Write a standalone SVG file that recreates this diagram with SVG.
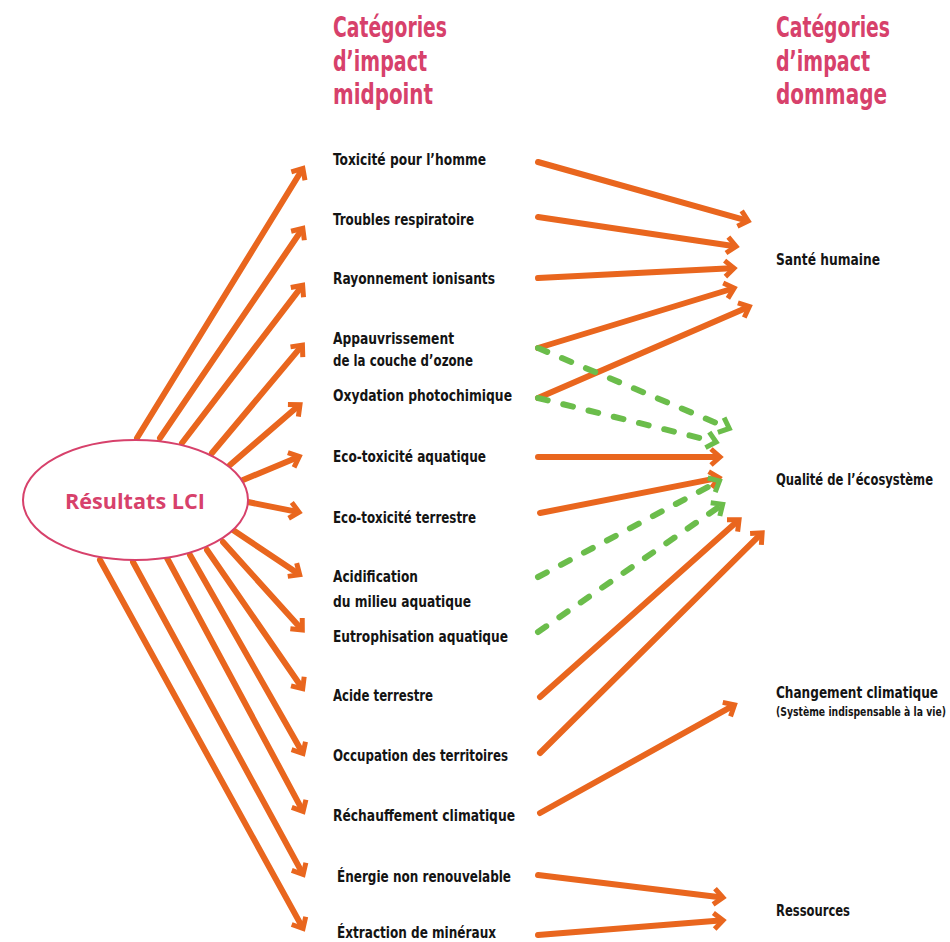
<svg xmlns="http://www.w3.org/2000/svg" width="950" height="942" viewBox="0 0 950 942">
<style>
.lbl{font-family:"Liberation Sans Narrow","DejaVu Sans Condensed","Open Sans",sans-serif;font-stretch:condensed;font-weight:bold;font-size:16px;fill:#141414}
.sm{font-size:12px}
.hdr{font-family:"Liberation Sans Narrow","DejaVu Sans Condensed","Open Sans",sans-serif;font-stretch:condensed;font-weight:bold;font-size:28px;fill:#d7416b}
.o{stroke:#e9661e;stroke-width:6;stroke-linecap:round;fill:none;marker-end:url(#ao)}
.g{stroke:#6bbd4b;stroke-width:6;stroke-linecap:round;fill:none;stroke-dasharray:10 16;marker-end:url(#ag)}
</style>
<defs>
<marker id="ao" markerUnits="userSpaceOnUse" orient="auto" refX="0" refY="0" markerWidth="30" markerHeight="30" overflow="visible">
<path d="M-6,-8 L3,0 L-6,8" fill="none" stroke="#e9661e" stroke-width="5" stroke-linejoin="miter"/>
</marker>
<marker id="ag" markerUnits="userSpaceOnUse" orient="auto" refX="0" refY="0" markerWidth="30" markerHeight="30" overflow="visible">
<path d="M-6,-8 L3,0 L-6,8" fill="none" stroke="#6bbd4b" stroke-width="5" stroke-linejoin="miter"/>
</marker>
</defs>
<rect width="950" height="942" fill="#ffffff"/>
<g id="connectors">
<line class="o" x1="137" y1="438" x2="301.3" y2="171.0"/>
<line class="o" x1="160" y1="438" x2="301.1" y2="230.8"/>
<line class="o" x1="182" y1="443" x2="300.8" y2="287.6"/>
<line class="o" x1="212" y1="453" x2="300.5" y2="347.4"/>
<line class="o" x1="230" y1="465" x2="297.7" y2="406.6"/>
<line class="o" x1="243" y1="480" x2="296.5" y2="457.7"/>
<line class="o" x1="248" y1="502" x2="296.1" y2="511.6"/>
<line class="o" x1="233" y1="530" x2="297.2" y2="573.1"/>
<line class="o" x1="223" y1="542" x2="300.3" y2="627.8"/>
<line class="o" x1="207" y1="550" x2="301.0" y2="686.2"/>
<line class="o" x1="190" y1="555" x2="301.5" y2="750.9"/>
<line class="o" x1="167" y1="558" x2="301.7" y2="808.8"/>
<line class="o" x1="133" y1="562" x2="301.7" y2="871.9"/>
<line class="o" x1="100" y1="560" x2="301.6" y2="925.9"/>
<line class="o" x1="538" y1="162" x2="745.3" y2="220.1"/>
<line class="o" x1="538" y1="217" x2="733.1" y2="246.0"/>
<line class="o" x1="538" y1="278" x2="731.0" y2="268.35"/>
<line class="o" x1="538" y1="348" x2="731.3" y2="289.0"/>
<line class="o" x1="538" y1="398" x2="746.6" y2="307.8"/>
<line class="o" x1="538" y1="457" x2="717" y2="457"/>
<line class="o" x1="540" y1="513" x2="716.1" y2="478.4"/>
<line class="g" x1="538" y1="348" x2="726.5" y2="427.3"/>
<line class="g" x1="538" y1="398" x2="713.2" y2="441.3"/>
<line class="g" x1="538" y1="577" x2="716.8" y2="482.3"/>
<line class="g" x1="538" y1="632" x2="720.2" y2="506.0"/>
<line class="o" x1="540" y1="697" x2="736.8" y2="521.7"/>
<line class="o" x1="540" y1="753" x2="760.0" y2="534.9"/>
<line class="o" x1="540" y1="813" x2="731.9" y2="706.4"/>
<line class="o" x1="538" y1="875" x2="720.0" y2="897.2"/>
<line class="o" x1="538" y1="935" x2="720.0" y2="920.6"/>
</g>
<g id="headers">
<text class="hdr" x="333" y="37" textLength="114" lengthAdjust="spacingAndGlyphs">Catégories</text>
<text class="hdr" x="333" y="71" textLength="94" lengthAdjust="spacingAndGlyphs">d’impact</text>
<text class="hdr" x="333" y="104" textLength="100" lengthAdjust="spacingAndGlyphs">midpoint</text>
<text class="hdr" x="776" y="37" textLength="114" lengthAdjust="spacingAndGlyphs">Catégories</text>
<text class="hdr" x="776" y="71" textLength="94" lengthAdjust="spacingAndGlyphs">d’impact</text>
<text class="hdr" x="776" y="104" textLength="111" lengthAdjust="spacingAndGlyphs">dommage</text>
</g>
<g id="lci">
<ellipse cx="135.5" cy="500" rx="112.5" ry="60" fill="#ffffff" stroke="#d7416b" stroke-width="2"/>
<text x="135" y="509" text-anchor="middle" textLength="140" lengthAdjust="spacingAndGlyphs" style="font-family:'Open Sans','Liberation Sans',sans-serif;font-weight:bold;font-size:22px;fill:#d7416b">Résultats LCI</text>
</g>
<g id="m-toxicite"><text class="lbl" x="333" y="165" textLength="153" lengthAdjust="spacingAndGlyphs">Toxicité pour l’homme</text></g>
<g id="m-troubles"><text class="lbl" x="333" y="225" textLength="141" lengthAdjust="spacingAndGlyphs">Troubles respiratoire</text></g>
<g id="m-rayonnement"><text class="lbl" x="333" y="284" textLength="162" lengthAdjust="spacingAndGlyphs">Rayonnement ionisants</text></g>
<g id="m-appauvrissement"><text class="lbl" x="333" y="344" textLength="121" lengthAdjust="spacingAndGlyphs">Appauvrissement</text><text class="lbl" x="333" y="366" textLength="140" lengthAdjust="spacingAndGlyphs">de la couche d’ozone</text></g>
<g id="m-oxydation"><text class="lbl" x="333" y="401" textLength="179" lengthAdjust="spacingAndGlyphs">Oxydation photochimique</text></g>
<g id="m-ecotox-aq"><text class="lbl" x="333" y="462" textLength="153" lengthAdjust="spacingAndGlyphs">Eco-toxicité aquatique</text></g>
<g id="m-ecotox-ter"><text class="lbl" x="333" y="523" textLength="143" lengthAdjust="spacingAndGlyphs">Eco-toxicité terrestre</text></g>
<g id="m-acidification"><text class="lbl" x="333" y="582" textLength="85" lengthAdjust="spacingAndGlyphs">Acidification</text><text class="lbl" x="333" y="607" textLength="138" lengthAdjust="spacingAndGlyphs">du milieu aquatique</text></g>
<g id="m-eutrophisation"><text class="lbl" x="333" y="642" textLength="175" lengthAdjust="spacingAndGlyphs">Eutrophisation aquatique</text></g>
<g id="m-acide"><text class="lbl" x="333" y="701" textLength="100" lengthAdjust="spacingAndGlyphs">Acide terrestre</text></g>
<g id="m-occupation"><text class="lbl" x="333" y="761" textLength="175" lengthAdjust="spacingAndGlyphs">Occupation des territoires</text></g>
<g id="m-rechauffement"><text class="lbl" x="333" y="821" textLength="182" lengthAdjust="spacingAndGlyphs">Réchauffement climatique</text></g>
<g id="m-energie"><text class="lbl" x="337" y="882" textLength="174" lengthAdjust="spacingAndGlyphs">Énergie non renouvelable</text></g>
<g id="m-extraction"><text class="lbl" x="337" y="938" textLength="159" lengthAdjust="spacingAndGlyphs">Éxtraction de minéraux</text></g>
<g id="d-sante"><text class="lbl" x="776" y="265" textLength="104" lengthAdjust="spacingAndGlyphs">Santé humaine</text></g>
<g id="d-qualite"><text class="lbl" x="776" y="485" textLength="157" lengthAdjust="spacingAndGlyphs">Qualité de l’écosystème</text></g>
<g id="d-changement"><text class="lbl" x="776" y="698" textLength="162" lengthAdjust="spacingAndGlyphs">Changement climatique</text><text class="lbl sm" x="776" y="716" textLength="170" lengthAdjust="spacingAndGlyphs">(Système indispensable à la vie)</text></g>
<g id="d-ressources"><text class="lbl" x="776" y="916" textLength="74" lengthAdjust="spacingAndGlyphs">Ressources</text></g>
</svg>
